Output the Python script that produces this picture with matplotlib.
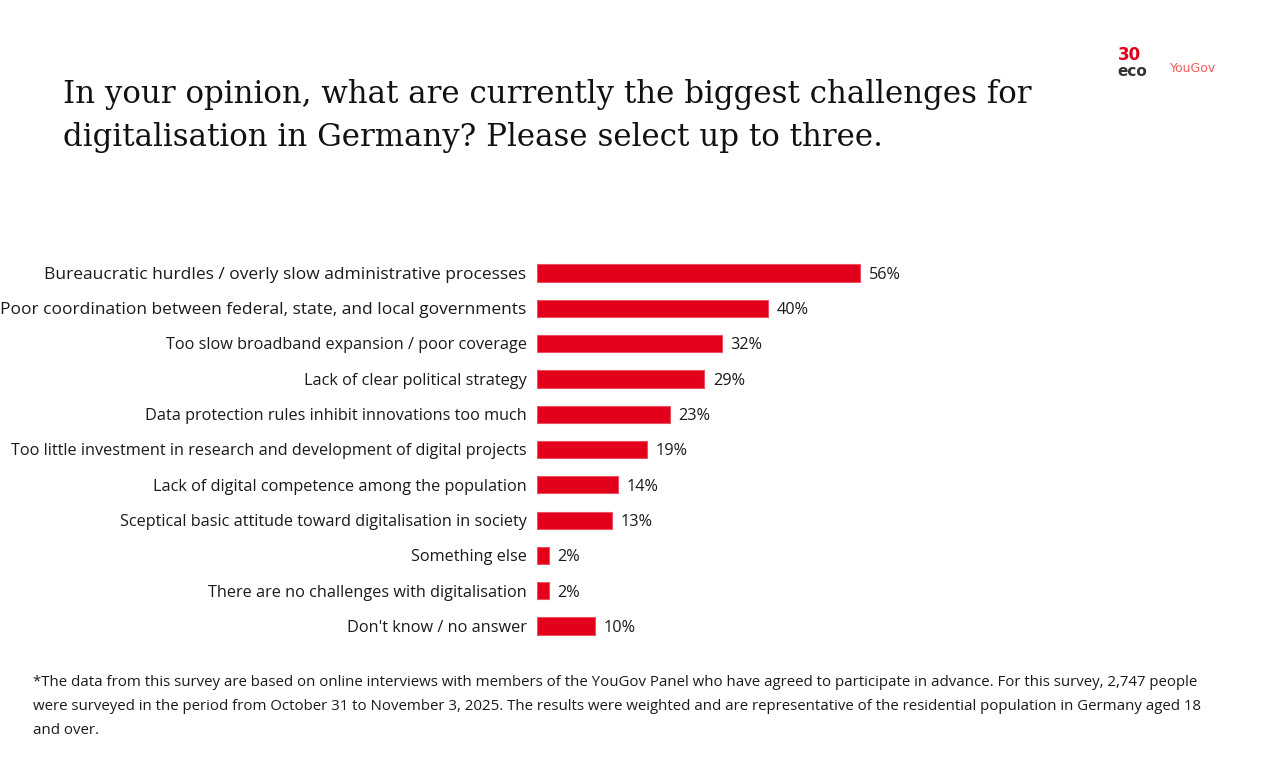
import matplotlib
matplotlib.use('Agg')
import matplotlib.pyplot as plt

categories = [
    'Bureaucratic hurdles / overly slow administrative processes',
    'Poor coordination between federal, state, and local governments',
    'Too slow broadband expansion / poor coverage',
    'Lack of clear political strategy',
    'Data protection rules inhibit innovations too much',
    'Too little investment in research and development of digital projects',
    'Lack of digital competence among the population',
    'Sceptical basic attitude toward digitalisation in society',
    'Something else',
    'There are no challenges with digitalisation',
    "Don't know / no answer",
]
values = [56, 40, 32, 29, 23, 19, 14, 13, 2, 2, 10]
value_labels = [f'{v}%' for v in values]

title = ('In your opinion, what are currently the biggest challenges for\n'
         'digitalisation in Germany? Please select up to three.')
footnote = [
    '*The data from this survey are based on online interviews with members of the YouGov Panel who have agreed to participate in advance. For this survey, 2,747 people',
    'were surveyed in the period from October 31 to November 3, 2025. The results were weighted and are representative of the residential population in Germany aged 18',
    'and over.',
]

RED = '#E2001A'
W, H = 1267, 759
fig = plt.figure(figsize=(W / 100, H / 100), dpi=100)

# axes placed in pixel units: 0% at x=537, 5.77 px per %
left_px, unit = 537, 5.77
top_px, row = 255.4, 35.3
ax = fig.add_axes([left_px / W, 1 - (top_px + row * 11) / H, 100 * unit / W, row * 11 / H])
ax.set_xlim(0, 100)
ax.set_ylim(10.5, -0.5)
ax.axis('off')

y = list(range(len(categories)))
ax.barh(y, values, height=0.49, color=RED, edgecolor='#EC5060', linewidth=0.8)
for i, (lab, v, vl) in enumerate(zip(categories, values, value_labels)):
    # the first two labels are set a bit larger in the original slide
    fs = 12.5 if i < 2 else 11.7
    ax.text(-1.8, i + 0.05, lab, ha='right', va='center', fontsize=fs,
            family='Open Sans', color='#1a1a1a')
    ax.text(v + 1.5, i + 0.05, vl, ha='left', va='center', fontsize=11.7,
            family='Open Sans', color='#1a1a1a')

fig.text(63 / W, 1 - 79 / H, title, ha='left', va='top', fontsize=22.2,
         family='DejaVu Serif', color='#111111', linespacing=1.48)

for k, line in enumerate(footnote):
    fig.text(33 / W, 1 - (682 + 24 * k) / H, line, ha='left', va='center',
             fontsize=10.8, family='Open Sans', color='#1a1a1a')

# logo
fig.text(1118 / W, 1 - 55 / H, '30', ha='left', va='center', fontsize=12,
         fontweight='bold', color=RED, family='DejaVu Sans')
fig.text(1117 / W, 1 - 72 / H, 'eco', ha='left', va='center', fontsize=11,
         fontweight='bold', color='#333333', family='DejaVu Sans')
fig.text(1170 / W, 1 - 68 / H, 'YouGov', ha='left', va='center', fontsize=9,
         color='#F05A5A', family='DejaVu Sans')

fig.savefig('out.png', dpi=100, facecolor='white')
